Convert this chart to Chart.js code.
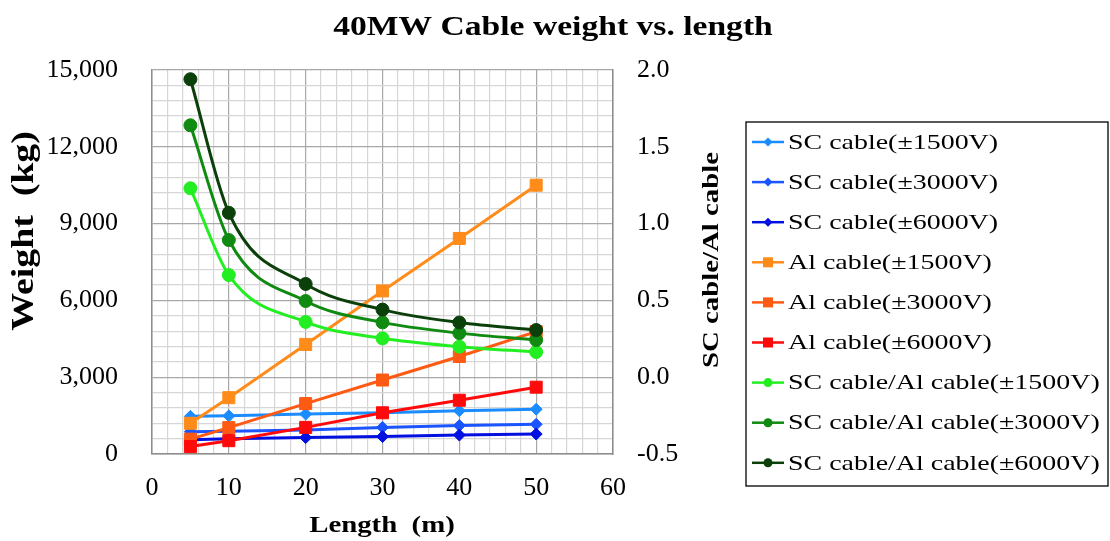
<!DOCTYPE html>
<html>
<head>
<meta charset="utf-8">
<script src="https://cdn.jsdelivr.net/npm/chart.js@4.4.0/dist/chart.umd.min.js"></script>
<style>
  body { margin: 0; background: #fff; }
  #wrap { width: 1110px; height: 541px; }
</style>
</head>
<body>
<div id="wrap"><canvas id="chart" width="1110" height="541"></canvas></div>
<script>
// cable lengths (m)
const lengths = [5, 10, 20, 30, 40, 50];

// weights (kg), left axis
const scCable1500 = [1470, 1490, 1560, 1610, 1690, 1750];
const scCable3000 = [870, 890, 940, 1040, 1110, 1160];
const scCable6000 = [560, 600, 640, 680, 740, 780];
const alCable1500 = [1200, 2200, 4280, 6370, 8420, 10500];
const alCable3000 = [580, 1030, 1970, 2890, 3810, 4780];
const alCable6000 = [290, 520, 1040, 1610, 2100, 2610];

// SC/Al ratios, right axis
const ratio1500 = [1.23, 0.665, 0.36, 0.253, 0.199, 0.164];
const ratio3000 = [1.64, 0.893, 0.496, 0.357, 0.287, 0.242];
const ratio6000 = [1.94, 1.07, 0.607, 0.44, 0.356, 0.307];

const xTickLabels = [0, 10, 20, 30, 40, 50, 60];
const yTickLabels = [0, 3000, 6000, 9000, 12000, 15000];
const y2TickLabels = [-0.5, 0.0, 0.5, 1.0, 1.5, 2.0];

const seriesLabels = [
  "SC cable(±1500V)", "SC cable(±3000V)", "SC cable(±6000V)",
  "Al cable(±1500V)", "Al cable(±3000V)", "Al cable(±6000V)",
  "SC cable/Al cable(±1500V)", "SC cable/Al cable(±3000V)", "SC cable/Al cable(±6000V)"
];
const seriesData = [scCable1500, scCable3000, scCable6000, alCable1500, alCable3000, alCable6000, ratio1500, ratio3000, ratio6000];
const seriesColors = ["#1a8cff", "#1a55ff", "#0010e0", "#ff8c1a", "#ff5a14", "#ff0a0a", "#22ee22", "#108a10", "#0b400b"];
const seriesMarkers = ["rectRot", "rectRot", "rectRot", "rect", "rect", "rect", "circle", "circle", "circle"];

const SERIF = "'Liberation Serif', 'Times New Roman', serif";

const datasets = seriesLabels.map((label, i) => {
  const isRatio = i >= 6;
  const style = seriesMarkers[i];
  return {
    label: label,
    data: lengths.map((x, j) => ({ x: x, y: seriesData[i][j] })),
    yAxisID: isRatio ? "y1" : "y",
    borderColor: seriesColors[i],
    backgroundColor: seriesColors[i],
    pointBackgroundColor: seriesColors[i],
    pointBorderColor: seriesColors[i],
    pointStyle: style,
    pointRadius: style === "rect" ? 8.5 : (style === "circle" ? 6.5 : 6),
    pointBorderWidth: 1,
    borderWidth: 3,
    tension: isRatio ? 0.4 : 0,
    cubicInterpolationMode: isRatio ? "monotone" : "default",
    order: 9 - i
  };
});

function drawText(ctx, text, x, y, font, rot, sx, align) {
  ctx.save();
  ctx.translate(x, y);
  ctx.rotate(rot);
  ctx.scale(sx, 1);
  ctx.font = font;
  ctx.fillStyle = "#000";
  ctx.textAlign = align || "center";
  ctx.textBaseline = "middle";
  ctx.fillText(text, 0, 0);
  ctx.restore();
}

function drawMarker(ctx, style, x, y, r, color) {
  ctx.beginPath();
  if (style === "circle") {
    ctx.arc(x, y, r, 0, Math.PI * 2);
  } else if (style === "rect") {
    ctx.rect(x - r, y - r, 2 * r, 2 * r);
  } else {
    ctx.moveTo(x, y - r); ctx.lineTo(x + r, y); ctx.lineTo(x, y + r); ctx.lineTo(x - r, y);
    ctx.closePath();
  }
  ctx.fillStyle = color;
  ctx.fill();
}

const textPlugin = {
  id: "textPlugin",
  afterDraw(chart) {
    const ctx = chart.ctx;
    drawText(ctx, "40MW Cable weight vs. length", 553, 28, "bold 28px " + SERIF, 0, 1.2);
    drawText(ctx, "Weight  (kg)", 25, 231, "bold 31px " + SERIF, -Math.PI / 2, 1.22);
    drawText(ctx, "SC cable/Al cable", 712, 260, "bold 24px " + SERIF, -Math.PI / 2, 1.2);
    drawText(ctx, "Length  (m)", 382, 526, "bold 24px " + SERIF, 0, 1.2);

    // legend box
    ctx.save();
    ctx.strokeStyle = "#000";
    ctx.lineWidth = 1.3;
    ctx.strokeRect(746, 122, 362, 364);
    seriesLabels.forEach((label, i) => {
      const y = 142 + i * 40.1;
      ctx.beginPath();
      ctx.moveTo(752, y);
      ctx.lineTo(784, y);
      ctx.strokeStyle = seriesColors[i];
      ctx.lineWidth = 2.5;
      ctx.stroke();
      const st = seriesMarkers[i];
      drawMarker(ctx, st, 768, y, st === "rect" ? 5 : 4.5, seriesColors[i]);
      drawText(ctx, label, 788, y + 1, "22px " + SERIF, 0, 1.27, "left");
    });
    ctx.restore();
  }
};

new Chart(document.getElementById("chart"), {
  type: "line",
  data: { datasets: datasets },
  options: {
    responsive: false,
    animation: false,
    layout: { padding: { top: 70, right: 370, left: 0, bottom: 0 } },
    plugins: { legend: { display: false }, tooltip: { enabled: false }, title: { display: false } },
    scales: {
      x: {
        type: "linear",
        min: 0, max: 60,
        afterFit: (s) => { s.height = 87; },
        ticks: {
          stepSize: 2, autoSkip: false, maxRotation: 0, padding: 19, color: "#000",
          font: { family: SERIF, size: 26 },
          callback: (v) => xTickLabels.includes(v) ? String(v) : ""
        },
        grid: {
          drawTicks: false, lineWidth: 1.2,
          color: (c) => (c.tick && c.tick.value % 10 === 0) ? "#a8a8a8" : "#d6d6d6"
        },
        border: { color: "#8c8c8c", width: 1.5 }
      },
      y: {
        position: "left",
        min: 0, max: 15000,
        afterFit: (s) => { s.width = 152; },
        ticks: {
          stepSize: 600, autoSkip: false, padding: 34, color: "#000",
          font: { family: SERIF, size: 26 },
          callback: (v) => yTickLabels.includes(v) ? v.toLocaleString("en-US") : ""
        },
        grid: {
          drawTicks: false, lineWidth: 1.2,
          color: (c) => (c.tick && c.tick.value % 3000 === 0) ? "#a8a8a8" : "#d6d6d6"
        },
        border: { color: "#8c8c8c", width: 1.5 }
      },
      y1: {
        position: "right",
        min: -0.5, max: 2.0,
        afterFit: (s) => { s.width = 127; },
        ticks: {
          stepSize: 0.5, padding: 24, color: "#000",
          font: { family: SERIF, size: 26 },
          callback: (v) => y2TickLabels.some((t) => Math.abs(t - v) < 1e-9) ? v.toFixed(1) : ""
        },
        grid: { drawOnChartArea: false, drawTicks: false },
        border: { color: "#8c8c8c", width: 1.5 }
      }
    }
  },
  plugins: [textPlugin]
});
</script>
</body>
</html>
